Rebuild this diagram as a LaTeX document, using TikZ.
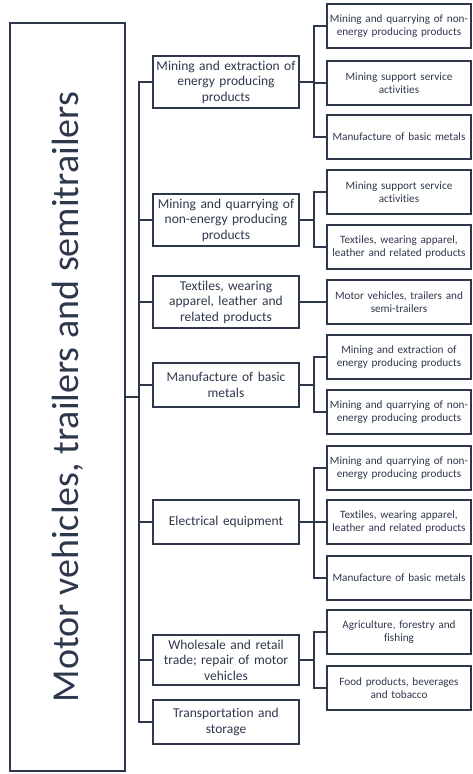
\documentclass[tikz,border=0pt]{standalone}
\usepackage{fontspec}
\setmainfont{Carlito}[Ligatures=NoCommon]
\usetikzlibrary{calc}
\definecolor{slateink}{RGB}{46,56,76}

\begin{document}
\begin{tikzpicture}[x=1pt, y=-1pt,
    core/.style={rectangle, draw=slateink, line width=1.6pt, minimum width=115pt,
                 minimum height=748pt, inner sep=0pt},
    sector/.style={rectangle, draw=slateink, line width=1.6pt, align=center,
                   text width=140pt, inner xsep=3pt, inner ysep=5pt, minimum height=44pt,
                   font=\fontsize{13.5}{15.5}\selectfont, text=slateink},
    leaf/.style={rectangle, draw=slateink, line width=1.6pt, align=center,
                 text width=143pt, inner xsep=0.5pt, inner ysep=3pt, minimum height=44pt,
                 font=\fontsize{11.2}{13}\selectfont, text=slateink},
    link/.style={draw=slateink, line width=1.6pt}]
  \useasboundingbox (0,0) rectangle (473,774);
  \node[core] (motor) at (67.5,397) {};
  \node[rotate=90, text=slateink, font=\fontsize{38}{40}\selectfont] (title) at (motor.center)
       {Motor vehicles, trailers and semitrailers};
  % first level
  \node[sector] (mext)   at (226,82)  {Mining and extraction of\\energy producing\\products};
  \node[sector] (mqua)   at (226,220) {Mining and quarrying of\\non-energy producing\\products};
  \node[sector] (mtex)   at (226,302) {Textiles, wearing\\apparel, leather and\\related products};
  \node[sector] (mmet)   at (226,385) {Manufacture of basic\\metals};
  \node[sector] (melec)  at (226,522) {Electrical equipment};
  \node[sector] (mtrade) at (226,660) {Wholesale and retail\\trade; repair of motor\\vehicles};
  \node[sector] (mtrans) at (226,722) {Transportation and\\storage};
  % second level
  \node[leaf] (l1a) at (399,26)  {Mining and quarrying of non-\\energy producing products};
  \node[leaf] (l1b) at (399,83)  {Mining support service\\activities};
  \node[leaf] (l1c) at (399,137) {Manufacture of basic metals};
  \node[leaf] (l2a) at (399,192) {Mining support service\\activities};
  \node[leaf] (l2b) at (399,247) {Textiles, wearing apparel,\\leather and related products};
  \node[leaf] (l3a) at (399,302) {Motor vehicles, trailers and\\semi-trailers};
  \node[leaf] (l4a) at (399,357) {Mining and extraction of\\energy producing products};
  \node[leaf] (l4b) at (399,412) {Mining and quarrying of non-\\energy producing products};
  \node[leaf] (l5a) at (399,468) {Mining and quarrying of non-\\energy producing products};
  \node[leaf] (l5b) at (399,522) {Textiles, wearing apparel,\\leather and related products};
  \node[leaf] (l5c) at (399,578) {Manufacture of basic metals};
  \node[leaf] (l6a) at (399,632) {Agriculture, forestry and\\fishing};
  \node[leaf] (l6b) at (399,688) {Food products, beverages\\and tobacco};
  % connectors
  \foreach \s in {mext,mqua,mtex,mmet,melec,mtrade,mtrans}
    \draw[link] (motor.east) -- ++(13,0) |- (\s.west);
  \foreach \s/\l in {mext/l1a,mext/l1b,mext/l1c,mqua/l2a,mqua/l2b,mtex/l3a,
                     mmet/l4a,mmet/l4b,melec/l5a,melec/l5b,melec/l5c,mtrade/l6a,mtrade/l6b}
    \draw[link] (\s.east) -- ++(14,0) |- (\l.west);
\end{tikzpicture}
\end{document}
